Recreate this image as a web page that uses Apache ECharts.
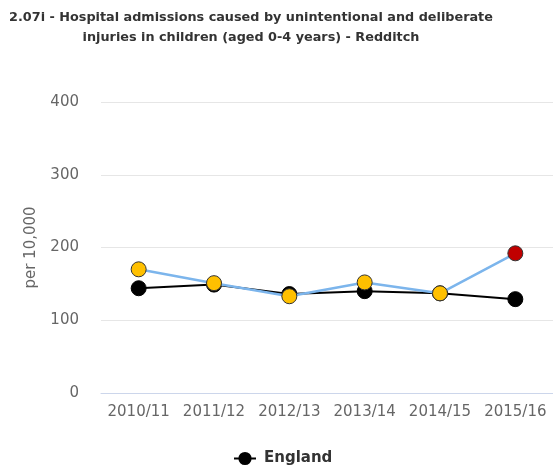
<!DOCTYPE html>
<html><head><meta charset="utf-8">
<script src="https://cdn.jsdelivr.net/npm/echarts@6/dist/echarts.min.js"></script>
<style>html,body{margin:0;padding:0;background:#fff}#c{width:553px;height:473px}</style>
</head><body><div id="c"></div>
<script>
const categories = ['2010/11','2011/12','2012/13','2013/14','2014/15','2015/16'];
const england = [144, 149, 136, 140, 137, 129];
const redditch = [170, 151, 133, 152, 137, 192];
const redditchColors = ['#ffc000','#ffc000','#ffc000','#ffc000','#ffc000','#c00000'];
const yTicks = [0, 100, 200, 300, 400];

const font = 'DejaVu Sans, Verdana, sans-serif';
const chart = echarts.init(document.getElementById('c'), null, {renderer:'canvas'});
chart.setOption({
  animation: false,
  title: {
    text: '2.07i - Hospital admissions caused by unintentional and deliberate\ninjuries in children (aged 0-4 years) - Redditch',
    left: 246, top: 3, textAlign: 'center',
    textStyle: {fontFamily: font, fontSize: 12.8, fontWeight: 'bold', color: '#333', lineHeight: 20}
  },
  legend: {
    data: ['England'],
    bottom: 2, left: 228, itemWidth: 22, itemHeight: 14, itemGap: 5,
    textStyle: {fontFamily: font, fontSize: 15, fontWeight: 'bold', color: '#333', padding: [0,0,0,3]}
  },
  grid: {left: 101, right: 0, top: 102, bottom: 80},
  xAxis: {
    type: 'category', data: categories, boundaryGap: true,
    axisLine: {lineStyle: {color: '#ccd6eb'}},
    axisTick: {alignWithLabel: true, length: 5, lineStyle: {color: '#ccd6eb'}},
    axisLabel: {fontFamily: font, fontSize: 15, color: '#666', margin: 12, interval: 0}
  },
  yAxis: {
    type: 'value', min: yTicks[0], max: yTicks[yTicks.length-1], interval: 100,
    name: 'per 10,000', nameLocation: 'middle', nameGap: 62, nameRotate: 90,
    nameTextStyle: {fontFamily: font, fontSize: 15, color: '#666'},
    axisLine: {show: false}, axisTick: {show: false},
    axisLabel: {fontFamily: font, fontSize: 15, color: '#666', margin: 22},
    splitLine: {lineStyle: {color: '#e6e6e6'}}
  },
  series: [
    {
      name: 'England', type: 'line', data: england,
      symbol: 'circle', symbolSize: 15,
      lineStyle: {color: '#000', width: 2},
      itemStyle: {color: '#000', borderColor: '#000', borderWidth: 1},
      z: 2
    },
    {
      name: 'Redditch', type: 'line',
      data: redditch.map((v,i)=>({value: v, itemStyle: {color: redditchColors[i]}})),
      symbol: 'circle', symbolSize: 15,
      lineStyle: {color: '#7cb5ec', width: 2.5},
      itemStyle: {borderColor: '#333', borderWidth: 1},
      z: 3
    }
  ]
});
</script></body></html>
